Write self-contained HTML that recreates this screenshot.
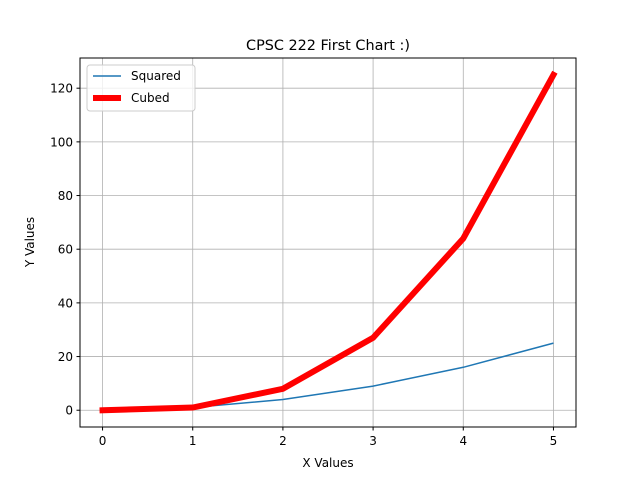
<!DOCTYPE html>
<html><head><meta charset="utf-8"><style>body{margin:0;background:#fff}svg{display:block}text{font-family:"DejaVu Sans","Liberation Sans",sans-serif;fill:#000}</style></head>
<body>
<svg id="chart" width="640" height="480">
<rect x="0" y="0" width="640" height="480" fill="#fff"/>
<text x="328" y="50" font-size="14.4" text-anchor="middle">CPSC 222 First Chart :)</text>
<g id="grid"></g><g id="ticks"></g><g id="series"></g>
<rect x="80" y="58" width="496" height="369" fill="none" stroke="#000" stroke-width="1"/>
<text x="328" y="467" font-size="12" text-anchor="middle">X Values</text>
<text transform="translate(34,242) rotate(-90)" font-size="12" text-anchor="middle">Y Values</text>
<g>
<rect x="87" y="65" width="108" height="46" fill="#fff" fill-opacity="0.8" stroke="#ccc" rx="3"/>
<line x1="93" y1="76" x2="121" y2="76" stroke="#1f77b4" stroke-width="1.5"/>
<text x="131" y="80" font-size="12">Squared</text>
<line x1="93" y1="98" x2="121" y2="98" stroke="#f00" stroke-width="6"/>
<text x="131" y="102" font-size="12">Cubed</text>
</g>
</svg>
<script>
const xs=[0,1,2,3,4,5];
const squared=[0,1,4,9,16,25];
const cubed=[0,1,8,27,64,125];
const xTicks=[0,1,2,3,4,5];
const yTicks=[0,20,40,60,80,100,120];
const L=80,R=576,T=58,B=427,xmin=-0.25,xmax=5.25,ymin=-6.25,ymax=131.25;
const sx=v=>L+(v-xmin)/(xmax-xmin)*(R-L);
const sy=v=>B-(v-ymin)/(ymax-ymin)*(B-T);
const NS="http://www.w3.org/2000/svg";
function mk(t,a,p){const e=document.createElementNS(NS,t);for(const k in a)e.setAttribute(k,a[k]);p.appendChild(e);return e;}
const g=document.getElementById('grid'),tk=document.getElementById('ticks'),s=document.getElementById('series');
xTicks.forEach(v=>{const x=sx(v);
const l=mk('line',{x1:x,y1:T,x2:x,y2:B,stroke:'#b0b0b0','stroke-width':0.8},g);


mk('line',{x1:x,y1:B,x2:x,y2:B+3.5,stroke:'#000'},tk);
const t=mk('text',{x:x,y:B+18,'font-size':12,'text-anchor':'middle'},tk);t.textContent=v;

});
yTicks.forEach(v=>{const y=sy(v);
const l=mk('line',{x1:L,y1:y,x2:R,y2:y,stroke:'#b0b0b0','stroke-width':0.8},g);


mk('line',{x1:L-3.5,y1:y,x2:L,y2:y,stroke:'#000'},tk);
const t=mk('text',{x:L-7,y:y+4.5,'font-size':12,'text-anchor':'end'},tk);t.textContent=v;

});
function pts(a){return xs.map((x,i)=>sx(x)+','+sy(a[i])).join(' ');}
const p1=mk('polyline',{points:pts(squared),fill:'none',stroke:'#1f77b4','stroke-width':1.5},s);


const p2=mk('polyline',{points:pts(cubed),fill:'none',stroke:'#f00','stroke-width':6,'stroke-linecap':'square'},s);


</script>
</body></html>
